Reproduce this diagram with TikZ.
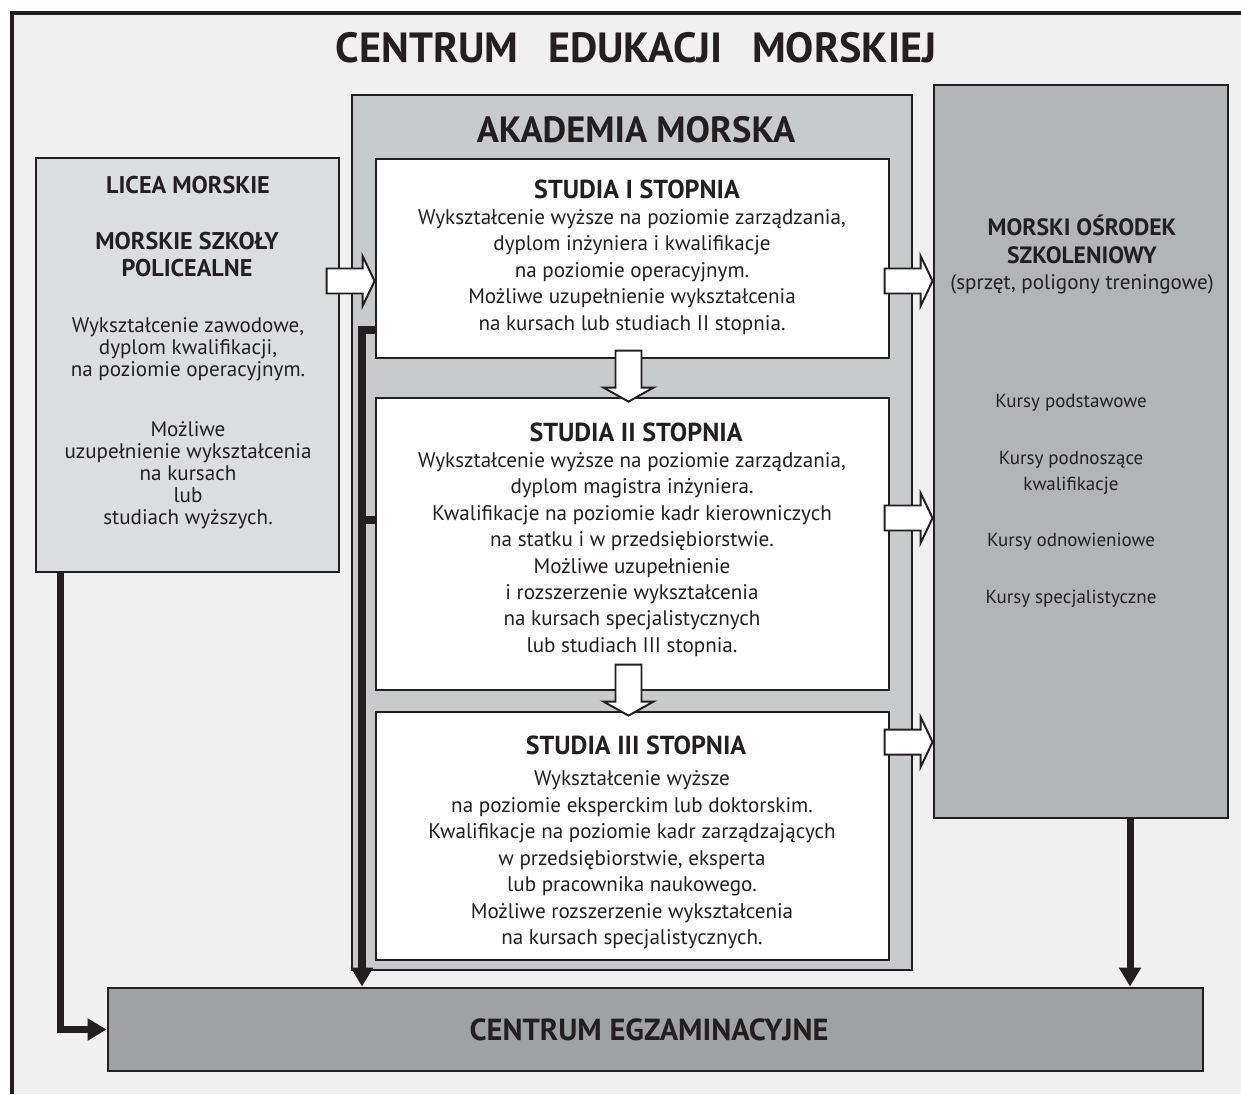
\documentclass[tikz,border=0pt]{standalone}
\usepackage{fontspec}
\setmainfont{PT Sans}
\usepackage{tikz}
\usetikzlibrary{arrows.meta,positioning,calc}
\definecolor{ink}{HTML}{231F20}
\definecolor{paper}{HTML}{F0F0F0}
\definecolor{academy}{HTML}{C9CACC}
\definecolor{school}{HTML}{DCDDDF}
\definecolor{training}{HTML}{B3B4B6}
\definecolor{exam}{HTML}{A0A1A3}
\newcommand{\pxu}{0.025cm}

\tikzset{
  panel/.style={draw=ink,line width=2pt,inner sep=0pt},
  head/.style={font=\bfseries\fontsize{18.5}{20}\selectfont,align=center},
  sidehead/.style={font=\bfseries\fontsize{17.2}{19.5}\selectfont,align=center},
  body/.style={font=\fontsize{15}{18.8}\selectfont,align=center},
  hollow/.style={draw=ink,fill=white,line width=1.4pt,line join=miter},
  feed/.style={draw=ink,line width=5pt,line join=miter,-{Triangle[width=15pt,length=13.5pt]}},
  pics/rightblock/.style={code={
    \draw[hollow] (-48,-12.5) -- (-12,-12.5) -- (-12,-25) -- (0,0) -- (-12,25) -- (-12,12.5) -- (-48,12.5) -- cycle;}},
  pics/downblock/.style={code={
    \draw[hollow] (-13,-51) -- (-13,-14) -- (-25,-14) -- (0,0) -- (25,-14) -- (13,-14) -- (13,-51) -- cycle;}}
}

\begin{document}
\begin{tikzpicture}[x=\pxu,y=-\pxu,every node/.style={text=ink}]
  \useasboundingbox (0,0) rectangle (1241,1094);
  % frame
  \fill[paper] (12,13) rectangle (1241,1094);
  \draw[ink,line width=3.2pt] (1241,13) -- (12,13) -- (12,1094);
  \node[font=\bfseries\fontsize{30}{36}\selectfont] (title) at (636,48)
    {CENTRUM\hspace{0.7em}EDUKACJI\hspace{0.7em}MORSKIEJ};

  % boxes
  \node[panel,fill=academy,minimum width=560*\pxu,minimum height=875*\pxu] (akademia) at (632,532.5) {};
  \node[panel,fill=white,minimum width=513*\pxu,minimum height=199*\pxu] (s1) at (632.5,258.5) {};
  \node[panel,fill=white,minimum width=513*\pxu,minimum height=292*\pxu] (s2) at (632.5,544) {};
  \node[panel,fill=white,minimum width=513*\pxu,minimum height=248*\pxu] (s3) at (632.5,836) {};
  \node[panel,fill=school,minimum width=303*\pxu,minimum height=414*\pxu] (licea) at (187.5,365) {};
  \node[panel,fill=training,minimum width=294*\pxu,minimum height=733*\pxu] (osrodek) at (1081,451.5) {};
  \node[panel,fill=exam,minimum width=1095*\pxu,minimum height=83*\pxu] (egzamin) at (655.5,1029.5) {};

  % akademia
  \node[font=\bfseries\fontsize{26}{30}\selectfont] (akademiatitle) at (636,130) {AKADEMIA MORSKA};
  \node[head] (s1head) at (637,189) {STUDIA I STOPNIA};
  \node[body] (s1text) at (632,272) {Wykształcenie wyższe na poziomie zarządzania,\\
    dyplom inżyniera i kwalifikacje\\na poziomie operacyjnym.\\
    Możliwe uzupełnienie wykształcenia\\na kursach lub studiach II stopnia.};
  \node[head] (s2head) at (636,432) {STUDIA II STOPNIA};
  \node[body] (s2text) at (632,554.5) {Wykształcenie wyższe na poziomie zarządzania,\\
    dyplom magistra inżyniera.\\Kwalifikacje na poziomie kadr kierowniczych\\
    na statku i w przedsiębiorstwie.\\Możliwe uzupełnienie\\
    i rozszerzenie wykształcenia\\na kursach specjalistycznych\\lub studiach III stopnia.};
  \node[head] (s3head) at (636,745) {STUDIA III STOPNIA};
  \node[body] (s3text) at (632,860) {Wykształcenie wyższe\\
    na poziomie eksperckim lub doktorskim.\\Kwalifikacje na poziomie kadr zarządzających\\
    w przedsiębiorstwie, eksperta\\lub pracownika naukowego.\\
    Możliwe rozszerzenie wykształcenia\\na kursach specjalistycznych.};

  % licea
  \node[sidehead] (liceahead) at (188,185) {LICEA MORSKIE};
  \node[sidehead] (szkolyhead) at (187,254.5) {MORSKIE SZKOŁY\\POLICEALNE};
  \node[body,font=\fontsize{15}{15.6}\selectfont] (liceatext) at (188,349) {Wykształcenie zawodowe,\\
    dyplom kwalifikacji,\\na poziomie operacyjnym.};
  \node[body,font=\fontsize{15}{15.6}\selectfont] (liceamore) at (188,475.5) {Możliwe\\
    uzupełnienie wykształcenia\\na kursach\\lub\\studiach wyższych.};

  % osrodek
  \node[sidehead,font=\bfseries\fontsize{16.8}{19.9}\selectfont] (osrodekhead) at (1082,239) {MORSKI OŚRODEK\\SZKOLENIOWY};
  \node[body] (sprzet) at (1082,284) {(sprzęt, poligony treningowe)};
  \node[body,font=\fontsize{13.5}{18.5}\selectfont] (kurs1) at (1071,403) {Kursy podstawowe};
  \node[body,font=\fontsize{13.5}{18.5}\selectfont] (kurs2) at (1071,473) {Kursy podnoszące\\kwalifikacje};
  \node[body,font=\fontsize{13.5}{18.5}\selectfont] (kurs3) at (1071,542) {Kursy odnowieniowe};
  \node[body,font=\fontsize{13.5}{18.5}\selectfont] (kurs4) at (1071,599) {Kursy specjalistyczne};

  % egzamin
  \node[font=\bfseries\fontsize{21.7}{26}\selectfont] (egzamintext) at (649,1030) {CENTRUM EGZAMINACYJNE};

  % block arrows
  \pic at (s1.west |- 0,281) {rightblock};
  \pic at (osrodek.west |- 0,281) {rightblock};
  \pic at (osrodek.west |- 0,518) {rightblock};
  \pic at (osrodek.west |- 0,742) {rightblock};
  \pic at ([shift={(-4,5)}]s2.north) {downblock};
  \pic at ([shift={(-4,5)}]s3.north) {downblock};

  % feeds to egzamin
  \coordinate (bus) at (362,330);
  \draw[feed] (s1.west |- bus) -- (bus) -- (bus |- egzamin.north);
  \draw[draw=ink,line width=5pt] (s2.west |- 0,520) -- (bus |- 0,520);
  \draw[feed] ([shift={(26,0)}]licea.south west) |- (egzamin.west);
  \draw[feed] ([shift={(49,0)}]osrodek.south) -- ([shift={(49,0)}]osrodek.south |- egzamin.north);
\end{tikzpicture}
\end{document}
